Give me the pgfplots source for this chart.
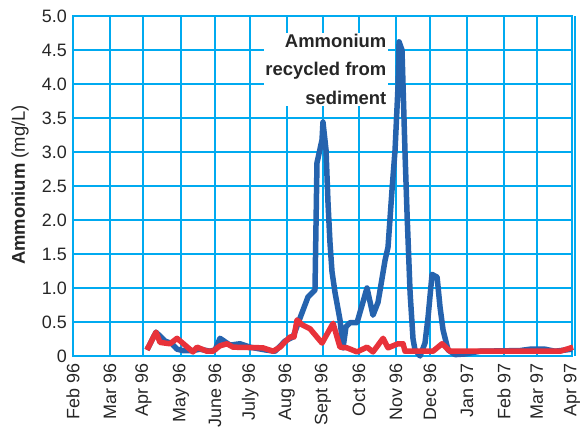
\documentclass[border=0pt]{standalone}
\usepackage{pgfplots}
\pgfplotsset{compat=1.18}
\usepackage{fontspec}
\setmainfont{Liberation Sans}
\definecolor{gridcyan}{RGB}{0,170,240}
\definecolor{nblue}{RGB}{37,99,174}
\definecolor{nred}{RGB}{232,50,58}
\begin{document}
\begin{tikzpicture}[x=1bp,y=1bp]
\begin{axis}[
  at={(73bp,71bp)}, anchor=south west,
  scale only axis, width=499bp, height=340bp,
  xmin=0, xmax=425, ymin=0, ymax=5,
  xtick={0,31.5,60,92,121,151,182,213,243.5,275,304,335.5,367,395,425},
  xticklabels={Feb 96,Mar 96,Apr 96,May 96,June 96,July 96,Aug 96,Sept 96,Oct 96,Nov 96,Dec 96,Jan 97,Feb 97,Mar 97,Apr 97},
  ytick={0,0.5,1,1.5,2,2.5,3,3.5,4,4.5,5},
  yticklabels={0,0.5,1.0,1.5,2.0,2.5,3.0,3.5,4.0,4.5,5.0},
  grid=major,
  every axis grid/.style={draw=gridcyan, line width=2bp},
  major grid style={draw=gridcyan, line width=2bp},
  axis line style={draw=gridcyan, line width=2bp},
  major tick length=0pt,
  tick label style={font=\fontsize{18}{20}\selectfont, text=black!85},
  xticklabel style={rotate=90, anchor=east, inner sep=0pt},
  xticklabel shift=7bp,
  yticklabel style={anchor=east, inner sep=0pt},
  yticklabel shift=6bp,
  clip=false,
]
\addplot[draw=nblue, line width=5.5bp, line join=round] coordinates {
(63.0,0.09) (70.7,0.35) (78.4,0.22) (84.3,0.18) (88.6,0.10) (93.7,0.08)
(102.2,0.08) (108.2,0.10) (116.7,0.07) (121,0.09) (125.2,0.26) (133.7,0.16)
(142.2,0.18) (150.8,0.13) (163.5,0.09) (172.1,0.07) (180.6,0.22) (187.4,0.28)
(193.4,0.56) (200.2,0.87) (206.1,0.97) (207.8,2.84) (212.1,3.18) (212.9,3.44)
(215.5,3.03) (217.2,2.25) (218.9,1.66) (220.6,1.24) (223.2,0.93) (227.4,0.53)
(230,0.12) (232.5,0.43) (235.9,0.49) (241.9,0.49) (250.4,1.00) (255.5,0.60)
(259.8,0.79) (265.8,1.41) (268.3,1.60) (271.7,2.44) (274.3,3.03) (276.8,3.96)
(277.7,4.62) (280.2,4.50) (282.8,2.98) (284.5,2.10) (287.1,0.93) (289.6,0.25)
(291.3,0.09) (295.6,0.00) (299.8,0.19) (302.4,0.57) (305.8,1.20) (310.1,1.16)
(312.6,0.72) (315.2,0.38) (319.4,0.09) (325.4,0.02) (333.9,0.03) (346.7,0.07)
(380.7,0.08) (389.3,0.10) (402,0.10) (410.6,0.07) (425,0.10)
};
\addplot[draw=nred, line width=5.5bp, line join=round] coordinates {
(63.0,0.09) (70.7,0.35) (74.1,0.20) (82.6,0.18) (88.6,0.26) (102.2,0.06)
(105.6,0.13) (114.1,0.07) (119.2,0.07) (125.2,0.15) (131.2,0.18) (136.3,0.13)
(161.8,0.12) (170.4,0.07) (176.3,0.13) (184.8,0.28) (188.2,0.28) (190.8,0.53)
(195.1,0.46) (201.9,0.40) (212.1,0.19) (221.5,0.48) (227.4,0.13) (233.4,0.12)
(241.9,0.06) (250.4,0.13) (255.5,0.06) (264.1,0.26) (268.3,0.12) (276.8,0.18)
(281.1,0.18) (282.8,0.07) (306.6,0.07) (314.3,0.18) (321.1,0.07) (414.8,0.07)
(425.9,0.13)
};
\node[anchor=north east, align=right, fill=white, inner sep=1.5bp,
  font=\bfseries\fontsize{18.5}{28.5}\selectfont, text=black!85]
  at (axis cs:268.3,4.76) {Ammonium\\recycled from\\sediment};
\draw[gridcyan, line width=2bp] ([xshift=3bp]rel axis cs:1,0) -- ([xshift=3bp]rel axis cs:1,1);
\end{axis}
\node[rotate=90, font=\fontsize{18.5}{20}\selectfont, text=black!85] at (20bp,242bp) {\textbf{Ammonium} (mg/L)};
\pgfresetboundingbox
\path (0,0) rectangle (581bp,427bp);
\end{tikzpicture}
\end{document}
